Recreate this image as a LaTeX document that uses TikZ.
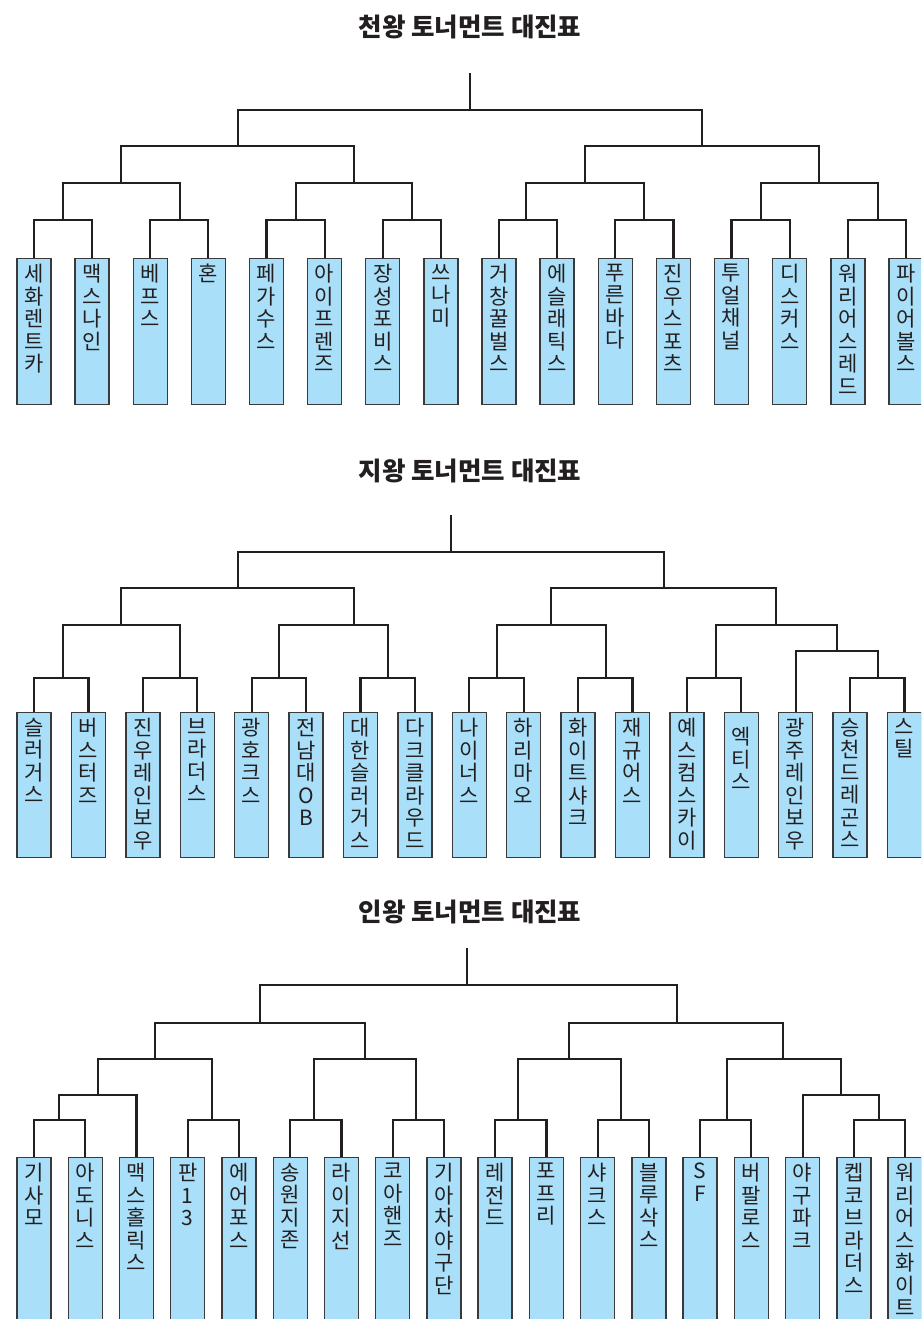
\documentclass[tikz,border=0pt]{standalone}
\usepackage{fontspec}
\setmainfont{Noto Sans CJK KR}
\usetikzlibrary{calc}
\definecolor{boxfill}{HTML}{A9DFF8}
\definecolor{boxedge}{HTML}{3A3A3A}
\definecolor{linecol}{HTML}{231F20}
\tikzset{
  teambox/.style={draw=boxedge, line width=1.4pt, fill=boxfill, minimum width=34pt,
    minimum height=#1, inner sep=0pt, anchor=north},
  teamtext/.style={anchor=north, inner sep=0pt, align=center,
    font=\fontsize{21}{22.5}\selectfont, text=linecol},
  bline/.style={draw=linecol, line width=2.2pt},
  titletext/.style={font=\bfseries\fontsize{25.5}{28}\selectfont, text=linecol, inner sep=0pt}
}
\def\vstack#1{\vstackA#1\relax}
\def\vstackA#1{\ifx\relax#1\else#1\\\expandafter\vstackA\fi}
\newcommand\team[6]{% name, x, ytop, height, text, shift
  \node[teambox=#4] (#1) at (#2,#3) {};
  \node[teamtext] (#1t) at ([yshift=-#6pt]#1.north) {\expandafter\vstack\expandafter{#5}};
}
\newcommand\joinup[5]{% name, childA, childB, x, y
  \coordinate (#1) at (#4,#5);
  \draw[bline] (#2) |- (#1) -| (#3);
}
\begin{document}
\begin{tikzpicture}[x=1pt, y=-1pt]
\useasboundingbox (0,0) rectangle (921,1319);
\clip (0,0) rectangle (921,1319);

% ================= Bracket 1 =================
\node[titletext] (title1) at (470,27) {천왕 토너먼트 대진표};
\foreach \n [count=\i from 0] in {세화렌트카,맥스나인,베프스,혼,페가수스,아이프렌즈,장성포비스,쓰나미,거창꿀벌스,에슬래틱스,푸른바다,진우스포츠,투얼채널,디스커스,워리어스레드,파이어볼스}{
  \pgfmathsetmacro\xx{34+\i*58.13}
  \team{a\i}{\xx}{258}{146pt}{\n}{6}
}
\joinup{ap0}{a0.north}{a1.north}{63}{220}
\joinup{ap1}{a2.north}{a3.north}{180}{220}
\joinup{ap2}{a4.north}{a5.north}{296}{220}
\joinup{ap3}{a6.north}{a7.north}{412}{220}
\joinup{ap4}{a8.north}{a9.north}{526}{220}
\joinup{ap5}{a10.north}{a11.north}{644}{220}
\joinup{ap6}{a12.north}{a13.north}{761}{220}
\joinup{ap7}{a14.north}{a15.north}{878}{220}
\joinup{aq0}{ap0}{ap1}{121}{183}
\joinup{aq1}{ap2}{ap3}{354}{183}
\joinup{aq2}{ap4}{ap5}{585}{183}
\joinup{aq3}{ap6}{ap7}{819}{183}
\joinup{ar0}{aq0}{aq1}{238}{146}
\joinup{ar1}{aq2}{aq3}{702}{146}
\joinup{as}{ar0}{ar1}{470}{110}
\coordinate (atop) at (470,73);
\draw[bline] (as) -- (atop);

% ================= Bracket 2 =================
\node[titletext] (title2) at (470,471) {지왕 토너먼트 대진표};
\foreach \n [count=\i from 0] in {슬러거스,버스터즈,진우레인보우,브라더스,광호크스,전남대OB,대한슬러거스,다크클라우드,나이너스,하리마오,화이트샤크,재규어스,예스컴스카이,엑티스,광주레인보우,승천드레곤스,스틸}{
  \pgfmathsetmacro\xx{34+\i*54.4}
  \pgfmathsetmacro\sh{(\i==13)?15:6}
  \team{c\i}{\xx}{712}{145pt}{\n}{\sh}
}
\joinup{cp0}{c0.north}{c1.north}{63}{678}
\joinup{cp1}{c2.north}{c3.north}{180}{678}
\joinup{cp2}{c4.north}{c5.north}{279}{678}
\joinup{cp3}{c6.north}{c7.north}{388}{678}
\joinup{cp4}{c8.north}{c9.north}{497}{678}
\joinup{cp5}{c10.north}{c11.north}{606}{678}
\joinup{cp6}{c12.north}{c13.north}{716}{678}
\joinup{cp7}{c15.north}{c16.north}{878}{678}
\joinup{ce}{c14.north}{cp7}{837}{651}
\joinup{cq0}{cp0}{cp1}{121}{625}
\joinup{cq1}{cp2}{cp3}{354}{625}
\joinup{cq2}{cp4}{cp5}{551}{625}
\joinup{cq3}{cp6}{ce}{776}{625}
\joinup{cr0}{cq0}{cq1}{238}{588}
\joinup{cr1}{cq2}{cq3}{664}{588}
\joinup{cs}{cr0}{cr1}{451}{552}
\coordinate (ctop) at (451,515);
\draw[bline] (cs) -- (ctop);

% ================= Bracket 3 =================
\node[titletext] (title3) at (470,912) {인왕 토너먼트 대진표};
\foreach \n [count=\i from 0] in {기사모,아도니스,맥스홀릭스,판13,에어포스,송원지존,라이지선,코아핸즈,기아차야구단,레전드,포프리,샤크스,블루삭스,SF,버팔로스,야구파크,켑코브라더스,워리어스화이트}{
  \pgfmathsetmacro\xx{34+\i*51.24}
  \team{d\i}{\xx}{1157}{200pt}{\n}{6}
}
\joinup{dp0}{d0.north}{d1.north}{59}{1120}
\joinup{dp1}{d3.north}{d4.north}{212}{1120}
\joinup{dp2}{d5.north}{d6.north}{314}{1120}
\joinup{dp3}{d7.north}{d8.north}{416}{1120}
\joinup{dp4}{d9.north}{d10.north}{518}{1120}
\joinup{dp5}{d11.north}{d12.north}{621}{1120}
\joinup{dp6}{d13.north}{d14.north}{727}{1120}
\joinup{dp7}{d16.north}{d17.north}{879}{1120}
\joinup{de1}{dp0}{d2.north}{98}{1095}
\joinup{de2}{d15.north}{dp7}{841}{1095}
\joinup{dq0}{de1}{dp1}{155}{1059}
\joinup{dq1}{dp2}{dp3}{365}{1059}
\joinup{dq2}{dp4}{dp5}{569}{1059}
\joinup{dq3}{dp6}{de2}{783}{1059}
\joinup{dr0}{dq0}{dq1}{260}{1023}
\joinup{dr1}{dq2}{dq3}{677}{1023}
\joinup{ds}{dr0}{dr1}{467}{985}
\coordinate (dtop) at (467,948);
\draw[bline] (ds) -- (dtop);
\end{tikzpicture}
\end{document}
